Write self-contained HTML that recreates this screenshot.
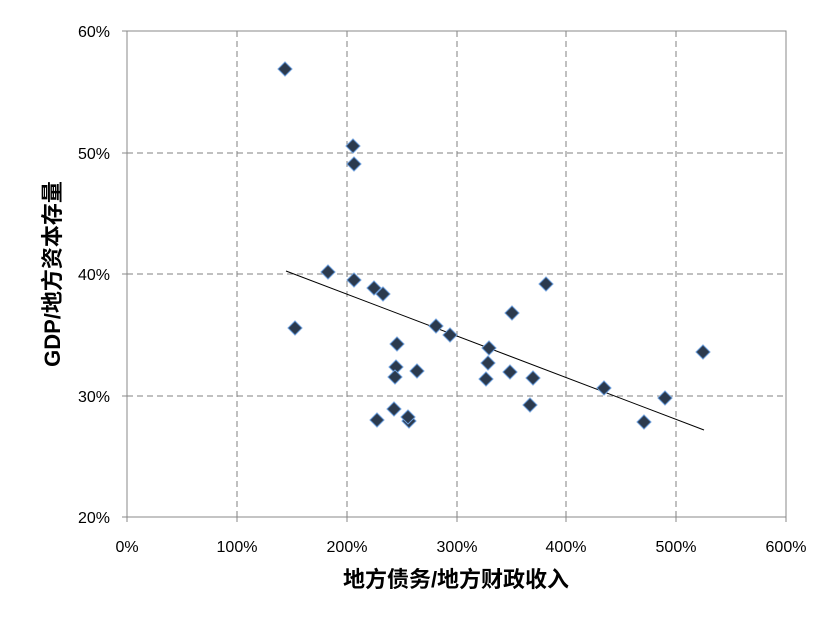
<!DOCTYPE html>
<html><head><meta charset="utf-8"><style>body{margin:0;background:#fff}</style></head><body>
<svg width="838" height="620" xmlns="http://www.w3.org/2000/svg" font-family="Liberation Sans, Noto Sans CJK SC, sans-serif">
<rect width="838" height="620" fill="#fff"/>
<g stroke="#808080" stroke-dasharray="6,4" stroke-width="1">
<line x1="127" y1="153" x2="786" y2="153"/><line x1="127" y1="274" x2="786" y2="274"/><line x1="127" y1="396" x2="786" y2="396"/>
<line x1="237" y1="31" x2="237" y2="517"/><line x1="347" y1="31" x2="347" y2="517"/><line x1="457" y1="31" x2="457" y2="517"/><line x1="566" y1="31" x2="566" y2="517"/><line x1="676" y1="31" x2="676" y2="517"/>
</g>
<rect x="127" y="31" width="659" height="486" fill="none" stroke="#888" stroke-width="1"/>
<g stroke="#888"><line x1="122" y1="31" x2="127" y2="31"/><line x1="122" y1="153" x2="127" y2="153"/><line x1="122" y1="274" x2="127" y2="274"/><line x1="122" y1="396" x2="127" y2="396"/><line x1="122" y1="517" x2="127" y2="517"/>
<line x1="127" y1="517" x2="127" y2="522"/><line x1="237" y1="517" x2="237" y2="522"/><line x1="347" y1="517" x2="347" y2="522"/><line x1="457" y1="517" x2="457" y2="522"/><line x1="566" y1="517" x2="566" y2="522"/><line x1="676" y1="517" x2="676" y2="522"/><line x1="786" y1="517" x2="786" y2="522"/></g>
<g font-size="16" fill="#000" text-anchor="end">
<text x="110" y="37">60%</text><text x="110" y="159">50%</text><text x="110" y="280">40%</text><text x="110" y="402">30%</text><text x="110" y="523">20%</text></g>
<g font-size="16" fill="#000" text-anchor="middle">
<text x="127" y="552">0%</text><text x="237" y="552">100%</text><text x="347" y="552">200%</text><text x="457" y="552">300%</text><text x="566" y="552">400%</text><text x="676" y="552">500%</text><text x="786" y="552">600%</text></g>
<text x="456" y="587" font-size="22" font-weight="bold" text-anchor="middle">地方债务/地方财政收入</text>
<text transform="translate(60,274) rotate(-90)" font-size="22" font-weight="bold" text-anchor="middle">GDP/地方资本存量</text>
<line x1="286" y1="271" x2="704" y2="430" stroke="#000" stroke-width="1"/>
<g fill="#2b3a4e" stroke="#6a9bd8" stroke-width="1">
<path d="M285 62l7 7-7 7-7-7z"/><path d="M353 139l7 7-7 7-7-7z"/><path d="M354 157l7 7-7 7-7-7z"/><path d="M328 265l7 7-7 7-7-7z"/><path d="M354 273l7 7-7 7-7-7z"/><path d="M295 321l7 7-7 7-7-7z"/><path d="M374 281l7 7-7 7-7-7z"/><path d="M383 287l7 7-7 7-7-7z"/><path d="M436 319l7 7-7 7-7-7z"/><path d="M450 328l7 7-7 7-7-7z"/><path d="M397 337l7 7-7 7-7-7z"/><path d="M489 341l7 7-7 7-7-7z"/><path d="M512 306l7 7-7 7-7-7z"/><path d="M546 277l7 7-7 7-7-7z"/><path d="M396 360l7 7-7 7-7-7z"/><path d="M417 364l7 7-7 7-7-7z"/><path d="M395 370l7 7-7 7-7-7z"/><path d="M488 356l7 7-7 7-7-7z"/><path d="M510 365l7 7-7 7-7-7z"/><path d="M486 372l7 7-7 7-7-7z"/><path d="M533 371l7 7-7 7-7-7z"/><path d="M604 381l7 7-7 7-7-7z"/><path d="M703 345l7 7-7 7-7-7z"/><path d="M665 391l7 7-7 7-7-7z"/><path d="M530 398l7 7-7 7-7-7z"/><path d="M394 402l7 7-7 7-7-7z"/><path d="M409 414l7 7-7 7-7-7z"/><path d="M377 413l7 7-7 7-7-7z"/><path d="M408 410l7 7-7 7-7-7z"/><path d="M644 415l7 7-7 7-7-7z"/>
</g>
</svg>
</body></html>
